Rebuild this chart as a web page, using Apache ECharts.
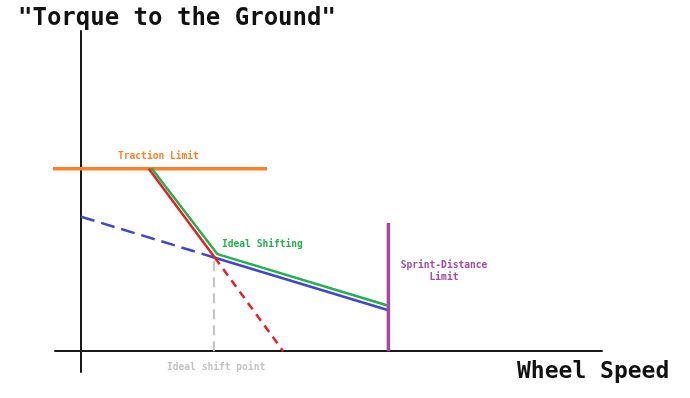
<!DOCTYPE html>
<html>
<head>
<meta charset="utf-8">
<script src="https://cdn.jsdelivr.net/npm/echarts@6/dist/echarts.min.js"></script>
<style>html,body{margin:0;padding:0;background:#fff;}#c{width:690px;height:398px;}</style>
</head>
<body>
<div id="c"></div>
<script>
// Data (wheel speed, torque) in abstract chart units
var tractionLimit = [[-5.8, 57], [35.7, 57]];
var lowGearSolid = [[13, 57], [25.7, 29.2]];
var lowGearDashed = [[25.7, 29.2], [38.8, 0]];
var idealShifting = [[13.5, 57.2], [26.2, 30.3], [59, 14.2]];
var highGearDashed = [[0, 42], [25.7, 29.2]];
var highGearSolid = [[25.7, 29.2], [59, 12.8]];
var sprintLimit = [[59, 0], [59, 40]];
var shiftPoint = [[25.5, 0], [25.5, 29.2]];

var chart = echarts.init(document.getElementById('c'), null, {renderer: 'canvas'});
var MONO = '"DejaVu Sans Mono", "Liberation Mono", monospace';
function line(data, color, width, type, z) {
  return {type: 'line', data: data, symbol: 'none', clip: false, z: z || 2,
    lineStyle: {color: color, width: width, type: type || 'solid', cap: 'butt'}, silent: true, animation: false};
}
function txt(x, y, s, size, color, align) {
  return {type: 'text', x: x, y: y, style: {text: s, font: 'bold ' + size + 'px ' + MONO, fill: color,
    align: align || 'left', verticalAlign: 'middle', lineHeight: Math.round(size * 1.3)}};
}
chart.setOption({
  animation: false,
  grid: {left: 55, right: 88, top: 31, bottom: 26},
  xAxis: {type: 'value', min: -5, max: 100,
    axisLine: {show: true, onZero: true, lineStyle: {color: '#1a1a1a', width: 2}},
    axisTick: {show: false}, axisLabel: {show: false}, splitLine: {show: false}},
  yAxis: {type: 'value', min: -6.5, max: 100,
    axisLine: {show: true, onZero: true, lineStyle: {color: '#1a1a1a', width: 2}},
    axisTick: {show: false}, axisLabel: {show: false}, splitLine: {show: false}},
  series: [
    line(shiftPoint, '#c3c3c3', 2, [10, 6], 1),
    line(tractionLimit, '#ff7f27', 3.5, 'solid', 2),
    line(highGearDashed, '#3f48cc', 2.5, [14, 7], 3),
    line(highGearSolid, '#3f48cc', 2.5, 'solid', 3),
    line(lowGearDashed, '#ed1c24', 2.5, [8, 6], 3),
    line(lowGearSolid, '#ed1c24', 2.5, 'solid', 4),
    line(idealShifting, '#22b14c', 2.5, 'solid', 4),
    line(sprintLimit, '#a349a4', 3.5, 'solid', 5)
  ],
  graphic: [
    txt(18, 19, '"Torque to the Ground"', 24, '#111'),
    txt(517, 372, 'Wheel Speed', 23, '#111'),
    txt(118, 156, 'Traction Limit', 9.6, '#ff7f27'),
    txt(222, 244, 'Ideal Shifting', 9.6, '#22b14c'),
    txt(444, 271, 'Sprint-Distance\nLimit', 9.6, '#a349a4', 'center'),
    txt(167, 367, 'Ideal shift point', 9.6, '#c3c3c3')
  ]
});
</script>
</body>
</html>
